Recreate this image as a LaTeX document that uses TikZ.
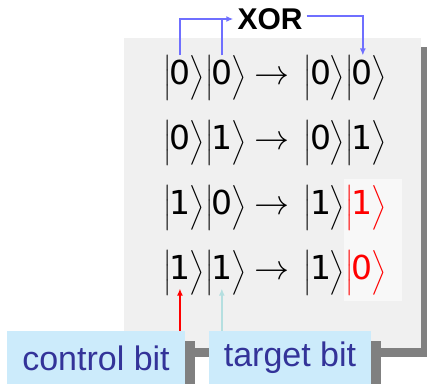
\documentclass[tikz,border=0pt]{standalone}
\usepackage{amsmath}
\usepackage{graphicx}
\usepackage{fontspec}
\setsansfont{Liberation Sans}
\newfontfamily\digfont{DejaVu Sans}
\usetikzlibrary{arrows.meta,positioning}

\definecolor{boxgray}{HTML}{F0F0F0}
\definecolor{shadowgray}{HTML}{808080}
\definecolor{hilite}{HTML}{F8F8F8}
\definecolor{labelblue}{HTML}{CCEBFB}
\definecolor{labeltext}{HTML}{333399}
\definecolor{xorblue}{HTML}{6F6FFF}
\definecolor{tgtcyan}{HTML}{B5DFE0}

\newcommand{\ketd}[1]{$\Bigl|\kern-1.5pt\hbox{\fontsize{33}{36}\digfont#1}\kern-1.5pt\Bigr\rangle$}

\tikzset{
  ket/.style={inner sep=0pt,font=\fontsize{35}{40}\selectfont},
  bitlabel/.style={fill=labelblue,text=labeltext,inner sep=0pt,minimum height=54pt,
    font=\fontsize{34}{36}\selectfont\sffamily},
  wire/.style={xorblue,line width=1.5pt},
}

\begin{document}
\begin{tikzpicture}[x=1pt,y=-1pt]
    \useasboundingbox (0,0) rectangle (427,383);
    % panel with shadow
    \fill[shadowgray] (133,47) rectangle (430,357);
    \fill[boxgray] (124,38) rectangle (421,348);
    \fill[hilite] (344,179) rectangle (402,301);
    \foreach \r/\y/\a/\b/\c/\d/\col in {1/78/0/0/0/0/black,2/143/0/1/0/1/black,
        3/208/1/0/1/1/red,4/273/1/1/1/0/red} {
      \node[ket,anchor=west] (a\r) at (163,\y) {\ketd{\a}};
      \node[ket,right=0pt of a\r] (b\r) {\ketd{\b}};
      \node[inner sep=0pt] (m\r) at (272,\y) {\scalebox{3.5}{$\rightarrow$}};
      \node[ket,anchor=west] (c\r) at (303,\y) {\ketd{\c}};
      \node[ket,right=0pt of c\r,text=\col] (d\r) {\ketd{\d}};
    }
    \node[font=\fontsize{30}{32}\selectfont\sffamily\bfseries,inner sep=4pt] (xor) at (270,19) {XOR};
    \draw[wire,-{Latex[length=7pt,width=6pt]}] ([xshift=-4pt]a1.north) |- (xor.west);
    \draw[wire] ([xshift=-4pt]b1.north) -- ([xshift=-4pt]b1.north |- xor.west);
    \draw[wire,-{Latex[length=7pt,width=6pt]}] ([yshift=3pt]xor.east) -| ([xshift=-3pt]d1.north);
    % labels
    \fill[shadowgray] (17,341) rectangle (195,390);
    \fill[shadowgray] (219,341) rectangle (381,390);
    \node[bitlabel,minimum width=178pt] (ctrl) at (96,358) {control bit};
    \node[bitlabel,minimum width=162pt] (tgt) at (290,358) {target bit};
    \coordinate (ctip) at ([xshift=-4pt,yshift=7pt]a4.south);
    \coordinate (ttip) at ([xshift=-4pt,yshift=7pt]b4.south);
    \draw[red,line width=1.5pt,-{Latex[length=7pt,width=6pt]}] (ctrl.north -| ctip) -- (ctip);
    \draw[tgtcyan,line width=1.5pt,-{Latex[length=7pt,width=6pt]}] (tgt.north -| ttip) -- (ttip);
\end{tikzpicture}
\end{document}
